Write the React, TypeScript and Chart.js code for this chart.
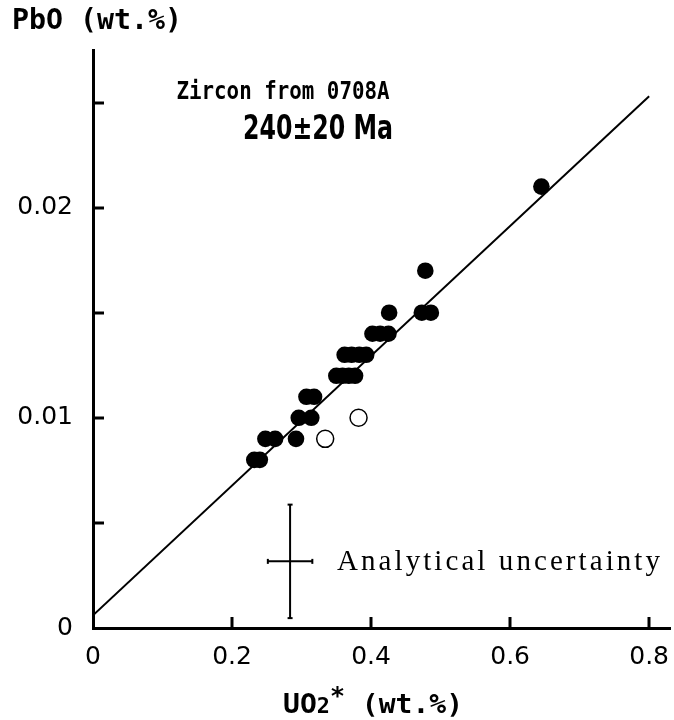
import { useEffect, useRef } from 'react';
import { Chart, registerables } from 'chart.js';

Chart.register(...registerables);

// Axis ticks
const xTicks = [0, 0.2, 0.4, 0.6, 0.8];
const xTickLabels = ['0', '0.2', '0.4', '0.6', '0.8'];
const yTicks = [0, 0.005, 0.01, 0.015, 0.02, 0.025];
const yTickLabels = ['0', '', '0.01', '', '0.02', ''];

// Zircon analyses (filled circles)
const filledUO2 = [
  0.232, 0.24, 0.248, 0.262, 0.292, 0.296, 0.314, 0.307, 0.318,
  0.35, 0.359, 0.368, 0.377, 0.362, 0.372, 0.383, 0.393,
  0.402, 0.413, 0.425, 0.426, 0.473, 0.486, 0.478, 0.645,
];
const filledPbO = [
  0.008, 0.008, 0.009, 0.009, 0.009, 0.01, 0.01, 0.011, 0.011,
  0.012, 0.012, 0.012, 0.012, 0.013, 0.013, 0.013, 0.013,
  0.014, 0.014, 0.014, 0.015, 0.015, 0.015, 0.017, 0.021,
];

// Excluded analyses (open circles)
const openUO2 = [0.334, 0.382];
const openPbO = [0.009, 0.01];

// Isochron line end points
const fitUO2 = [0, 0.8];
const fitPbO = [0.0006, 0.0253];

// Analytical uncertainty cross: centre and half-widths
const errUO2 = [0.2835];
const errPbO = [0.00317];
const errHalfUO2 = [0.032];
const errHalfPbO = [0.0027];

const texts = {
  yTitle: 'PbO (wt.%)',
  sample: 'Zircon from 0708A',
  age: '240\u00B120 Ma',
  unc: 'Analytical uncertainty',
};

function drawFit(ctx: CanvasRenderingContext2D, text: string, font: string, x: number, y: number, width: number, align: 'left' | 'center') {
  ctx.save();
  ctx.font = font;
  ctx.textBaseline = 'middle';
  ctx.textAlign = 'left';
  const w = ctx.measureText(text).width;
  const sx = width / w;
  const left = align === 'center' ? x - width / 2 : x;
  ctx.translate(left, y);
  ctx.scale(sx, 1);
  ctx.fillText(text, 0, 0);
  ctx.restore();
}

const decorPlugin = {
  id: 'decor',
  afterDraw(chart: any) {
    const ctx: CanvasRenderingContext2D = chart.ctx;
    const xs = chart.scales.x;
    const ys = chart.scales.y;
    const area = chart.chartArea;
    ctx.save();
    ctx.strokeStyle = '#000';
    ctx.fillStyle = '#000';
    ctx.lineWidth = 3;
    ctx.lineCap = 'butt';
    // inward tick marks
    xTicks.forEach((v) => {
      if (v === 0) return;
      const px = Math.round(xs.getPixelForValue(v));
      ctx.beginPath();
      ctx.moveTo(px, area.bottom);
      ctx.lineTo(px, area.bottom - 11);
      ctx.stroke();
    });
    yTicks.forEach((v) => {
      if (v === 0) return;
      const py = Math.round(ys.getPixelForValue(v));
      ctx.beginPath();
      ctx.moveTo(area.left, py);
      ctx.lineTo(area.left + 11, py);
      ctx.stroke();
    });

    // Y title (horizontal, top-left)
    drawFit(ctx, texts.yTitle, 'bold 28px "DejaVu Sans Mono"', 12, 22, 170, 'left');
    // Annotations
    drawFit(ctx, texts.sample, 'bold 25px "DejaVu Sans Mono"', 283, 92, 213, 'center');
    drawFit(ctx, texts.age, 'bold 33px "DejaVu Sans"', 318, 130, 150, 'center');
    // Analytical uncertainty label (serif)
    ctx.save();
    ctx.font = '29px "Liberation Serif"';
    const w0 = ctx.measureText(texts.unc).width;
    const sp = (323 - w0) / (texts.unc.length - 1);
    (ctx as any).letterSpacing = sp.toFixed(2) + 'px';
    ctx.textBaseline = 'middle';
    ctx.textAlign = 'left';
    ctx.fillText(texts.unc, 337, 562);
    ctx.restore();

    // X title: UO2* (wt.%)
    ctx.save();
    ctx.textBaseline = 'alphabetic';
    ctx.textAlign = 'left';
    const parts = [
      { t: 'UO', f: 'bold 27px "DejaVu Sans Mono"', dy: 0 },
      { t: '2', f: 'bold 21px "DejaVu Sans Mono"', dy: 0 },
      { t: '*', f: 'bold 24px "DejaVu Sans Mono"', dy: -9 },
      { t: ' (wt.%)', f: 'bold 27px "DejaVu Sans Mono"', dy: 0 },
    ];
    let total = 0;
    parts.forEach((p) => { ctx.font = p.f; total += ctx.measureText(p.t).width; });
    const targetW = 180;
    const sx = targetW / total;
    ctx.translate(373 - targetW / 2, 713);
    ctx.scale(sx, 1);
    let cx = 0;
    parts.forEach((p) => {
      ctx.font = p.f;
      ctx.fillText(p.t, cx, p.dy);
      cx += ctx.measureText(p.t).width;
    });
    ctx.restore();

    ctx.restore();
  },
};

export default function App() {
  const ref = useRef<HTMLCanvasElement | null>(null);
  useEffect(() => {
    if (!ref.current) return;
    const filled = filledUO2.map((x, i) => ({ x, y: filledPbO[i] }));
    const open = openUO2.map((x, i) => ({ x, y: openPbO[i] }));
    const fit = fitUO2.map((x, i) => ({ x, y: fitPbO[i] }));
    const hBar = [
      { x: errUO2[0] - errHalfUO2[0], y: errPbO[0] },
      { x: errUO2[0] + errHalfUO2[0], y: errPbO[0] },
    ];
    const vBar = [
      { x: errUO2[0], y: errPbO[0] - errHalfPbO[0] },
      { x: errUO2[0], y: errPbO[0] + errHalfPbO[0] },
    ];
    const chart = new Chart(ref.current, {
      type: 'scatter',
      data: {
        datasets: [
          {
            data: fit,
            showLine: true,
            borderColor: '#000',
            borderWidth: 2,
            pointRadius: 0,
          },
          {
            data: hBar,
            showLine: true,
            borderColor: '#000',
            borderWidth: 2,
            pointStyle: 'line',
            rotation: 90,
            pointRadius: 2.5,
            pointBorderWidth: 2,
            pointBorderColor: '#000',
          },
          {
            data: vBar,
            showLine: true,
            borderColor: '#000',
            borderWidth: 2,
            pointStyle: 'line',
            rotation: 0,
            pointRadius: 2.5,
            pointBorderWidth: 2,
            pointBorderColor: '#000',
          },
          {
            data: open,
            pointRadius: 8.5,
            pointBackgroundColor: '#fff',
            pointBorderColor: '#000',
            pointBorderWidth: 1.5,
          },
          {
            data: filled,
            pointRadius: 8.3,
            pointBackgroundColor: '#000',
            pointBorderColor: '#000',
            pointBorderWidth: 0,
          },
        ],
      } as any,
      options: {
        animation: false,
        responsive: false,
        events: [],
        layout: { autoPadding: false, padding: { top: 50, right: 4, left: 0, bottom: 0 } },
        plugins: { legend: { display: false }, tooltip: { enabled: false } },
        scales: {
          x: {
            type: 'linear',
            min: 0,
            max: 0.83,
            afterBuildTicks: (s: any) => { s.ticks = xTicks.map((v) => ({ value: v })); },
            afterFit: (s: any) => { s.height = 92; s.paddingRight = 0; s.paddingLeft = 0; },
            ticks: {
              callback: (_v: any, i: number) => xTickLabels[i],
              font: { family: '"DejaVu Sans"', size: 25 },
              color: '#000',
              padding: 14,
              maxRotation: 0,
              autoSkip: false,
            },
            grid: { display: false, drawTicks: false },
            border: { display: true, width: 3, color: '#000' },
          },
          y: {
            type: 'linear',
            min: 0,
            max: 0.0275,
            afterBuildTicks: (s: any) => { s.ticks = yTicks.map((v) => ({ value: v })); },
            afterFit: (s: any) => { s.width = 93; s.paddingTop = 0; s.paddingBottom = 0; },
            ticks: {
              callback: (_v: any, i: number) => yTickLabels[i],
              font: { family: '"DejaVu Sans"', size: 25 },
              color: '#000',
              padding: 20,
              autoSkip: false,
            },
            grid: { display: false, drawTicks: false },
            border: { display: true, width: 3, color: '#000' },
          },
        },
      } as any,
      plugins: [decorPlugin],
    });
    return () => chart.destroy();
  }, []);
  return (
    <div style={{ position: 'absolute', left: 0, top: 0, width: 674, height: 720, background: '#fff' }}>
      <canvas ref={ref} width={674} height={720} style={{ display: 'block' }} />
    </div>
  );
}
